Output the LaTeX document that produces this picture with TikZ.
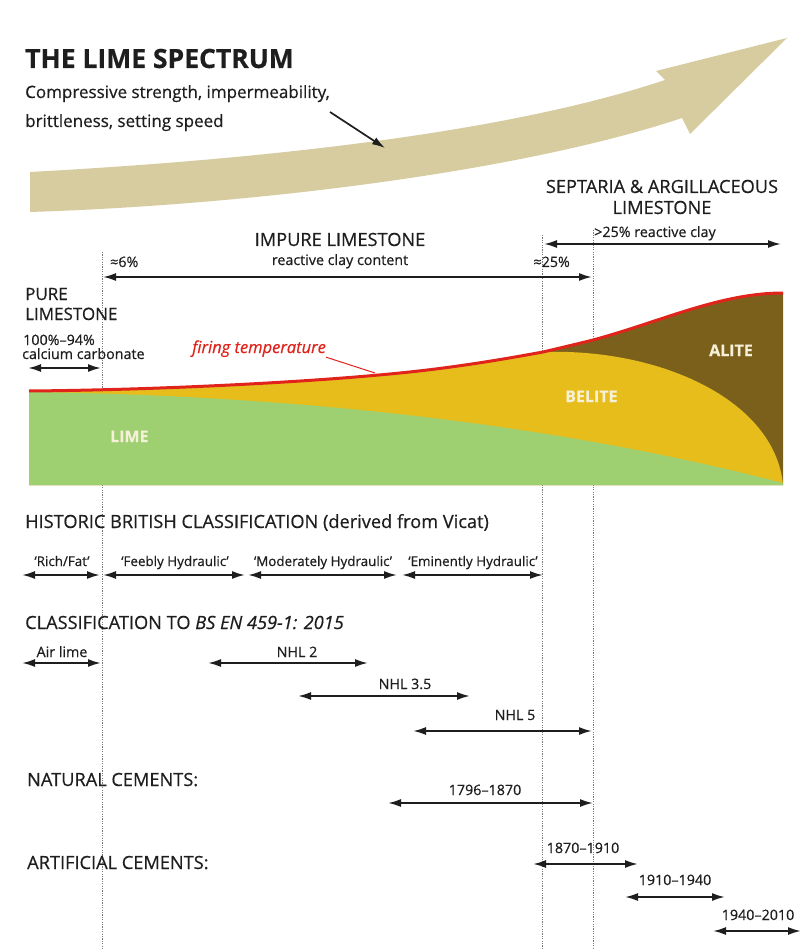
\documentclass[tikz,border=0pt]{standalone}
\usepackage{fontspec}
\setmainfont{Open Sans}[FakeBold=0.5]
\usetikzlibrary{arrows.meta}
\definecolor{tanc}{RGB}{215,204,160}
\definecolor{limeg}{RGB}{158,207,112}
\definecolor{belite}{RGB}{231,189,28}
\definecolor{alite}{RGB}{123,96,28}
\definecolor{firered}{RGB}{224,36,28}
\definecolor{ink}{RGB}{30,30,30}
\definecolor{guide}{RGB}{120,120,120}
\definecolor{labcream}{RGB}{245,240,215}
\tikzset{
  txt/.style={inner sep=0pt, text=ink, font=\fontsize{17}{20}\selectfont},
  headtxt/.style={inner sep=0pt, text=ink, font=\fontsize{18.2}{21}\selectfont},
  smalltxt/.style={inner sep=0pt, text=ink, font=\fontsize{14.3}{17}\selectfont},
  histtxt/.style={inner sep=0pt, text=ink, font=\fontsize{13.4}{16}\selectfont},
  areatxt/.style={inner sep=0pt, text=labcream, font=\bfseries\fontsize{16}{19}\selectfont},
  span/.style={{Latex[length=13pt,width=8pt]}-{Latex[length=13pt,width=8pt]}, line width=1.9pt, draw=ink},
  guideline/.style={draw=guide, line width=0.8pt, dash pattern=on 1.2pt off 1.2pt},
}
\begin{document}
\begin{tikzpicture}[x=1pt,y=-1pt]
\useasboundingbox (0,0) rectangle (802,949);
\fill[white] (0,0) rectangle (802,949);

% guide lines (behind chart)
\coordinate (g1t) at (102,252); \coordinate (g1b) at (102,949);
\coordinate (g2t) at (542,235); \coordinate (g2b) at (542,949);
\coordinate (g3t) at (593,230); \coordinate (g3b) at (593,949);
\draw[guideline] (g1t) -- (g1b);
\draw[guideline] (g2t) -- (g2b);
\draw[guideline] (g3t) -- (g3b);

% title
\node[txt, anchor=base west, font=\bfseries\fontsize{26.5}{30}\selectfont] (title) at (25,68) {THE LIME SPECTRUM};
\node[txt, anchor=base west] (props) at (25,98) {Compressive strength, impermeability,};
\node[txt, anchor=base west] (props2) at (25,127) {brittleness, setting speed};

% big arrow
\fill[tanc] (30,172) .. controls (250,160) and (500,135) .. (665,80)
  -- (656,71) -- (787,38) -- (690,134) -- (682,118)
  .. controls (520,172) and (250,205) .. (30,212) -- cycle;
\coordinate (parr) at (385,148);
\coordinate (pstart) at (330,112);
\draw[-{Latex[length=13pt,width=8pt]}, line width=1.7pt, draw=ink] (pstart) -- (parr);

% septaria
\node[headtxt, anchor=base] (sept) at (662,193) {SEPTARIA \& ARGILLACEOUS};
\node[headtxt, anchor=base] (sept2) at (662,214) {LIMESTONE};
\node[smalltxt, anchor=base] (sept3) at (655,237) {>25\% reactive clay};
\coordinate (sa) at (544,244); \coordinate (sb) at (781,244);
\draw[span] (sa) -- (sb);

% impure
\node[headtxt, anchor=base] (imp) at (340,246) {IMPURE LIMESTONE};
\node[smalltxt, anchor=base] (imp2) at (340,265) {reactive clay content};
\node[smalltxt, anchor=base west] (p6) at (110,267) {≈6\%};
\node[smalltxt, anchor=base east] (p25) at (570,267) {≈25\%};
\coordinate (ia) at (103,277); \coordinate (ib) at (592,277);
\draw[span] (ia) -- (ib);

% pure
\node[txt, anchor=base west] (pure) at (25,300) {PURE};
\node[txt, anchor=base west] (pure2) at (25,320) {LIMESTONE};
\node[smalltxt, anchor=base west] (pc1) at (23,345) {100\%–94\%};
\node[smalltxt, anchor=base west] (pc2) at (22,359) {calcium carbonate};
\coordinate (pa) at (28,368); \coordinate (pb) at (101,368);
\draw[span] (pa) -- (pb);

% chart
\fill[alite] (29,391) .. controls (150,390) and (300,383) .. (400,373)
  .. controls (460,367) and (510,358) .. (543,352)
  .. controls (560,348) and (577,344) .. (593,340)
  .. controls (660,322) and (720,293) .. (783,293)
  -- (783,485) -- (29,485) -- cycle;
\fill[belite] (29,391) .. controls (150,390) and (300,383) .. (400,373)
  .. controls (460,367) and (510,358) .. (543,352)
  .. controls (660,348) and (775,400) .. (783,485)
  -- (29,485) -- cycle;
\fill[limeg] (29,392) .. controls (250,395) and (520,415) .. (783,483)
  -- (783,485) -- (29,485) -- cycle;
\draw[firered, line width=3pt] (29,391) .. controls (150,390) and (300,383) .. (400,373)
  .. controls (460,367) and (510,358) .. (543,352)
  .. controls (560,348) and (577,344) .. (593,340)
  .. controls (660,322) and (720,293) .. (783,293);
\node[areatxt, anchor=base west] (lime) at (110,442) {LIME};
\node[areatxt, anchor=base west] (bel) at (565,402) {BELITE};
\node[areatxt, anchor=base west] (ali) at (709,356) {ALITE};
\node[inner sep=0pt, text=firered, anchor=base west, font=\itshape\fontsize{16.5}{19}\selectfont] (fire) at (192,353) {firing temperature};
\coordinate (fp) at (375,373);
\draw[firered, line width=1pt] (fire.south east) -- (fp);

% historic
\node[headtxt, anchor=base west] (hist) at (25,528) {HISTORIC BRITISH CLASSIFICATION (derived from Vicat)};
\node[histtxt, anchor=base] (h1) at (62,566) {‘Rich/Fat’};
\node[histtxt, anchor=base] (h2) at (175,566) {‘Feebly Hydraulic’};
\node[histtxt, anchor=base] (h3) at (323,566) {‘Moderately Hydraulic’};
\node[histtxt, anchor=base] (h4) at (473,566) {‘Eminently Hydraulic’};
\coordinate (h1a) at (22,575); \coordinate (h1b) at (100,575);
\coordinate (h2a) at (103,575); \coordinate (h2b) at (245,575);
\coordinate (h3a) at (248,575); \coordinate (h3b) at (397,575);
\coordinate (h4a) at (402,575); \coordinate (h4b) at (543,575);
\draw[span] (h1a) -- (h1b);
\draw[span] (h2a) -- (h2b);
\draw[span] (h3a) -- (h3b);
\draw[span] (h4a) -- (h4b);

% BS EN
\node[headtxt, anchor=base west] (bs) at (25,629) {CLASSIFICATION TO \textit{BS EN 459-1: 2015}};
\node[smalltxt, anchor=base] (air) at (62,657) {Air lime};
\coordinate (aa) at (22,663); \coordinate (ab) at (101,663);
\draw[span] (aa) -- (ab);
\node[smalltxt, anchor=base] (n2) at (297,657) {NHL 2};
\coordinate (n2a) at (208,663); \coordinate (n2b) at (368,663);
\draw[span] (n2a) -- (n2b);
\node[smalltxt, anchor=base] (n35) at (405,689) {NHL 3.5};
\coordinate (n35a) at (298,696); \coordinate (n35b) at (470,696);
\draw[span] (n35a) -- (n35b);
\node[smalltxt, anchor=base] (n5) at (515,720) {NHL 5};
\coordinate (n5a) at (413,731); \coordinate (n5b) at (592,731);
\draw[span] (n5a) -- (n5b);

% cements
\node[headtxt, anchor=base west] (nat) at (27,786) {NATURAL CEMENTS:};
\node[smalltxt, anchor=base] (c1) at (485,795) {1796–1870};
\coordinate (c1a) at (388,803); \coordinate (c1b) at (593,803);
\draw[span] (c1a) -- (c1b);
\node[headtxt, anchor=base west] (art) at (27,869) {ARTIFICIAL CEMENTS:};
\node[smalltxt, anchor=base] (c2) at (583,853) {1870–1910};
\coordinate (c2a) at (533,864); \coordinate (c2b) at (638,864);
\draw[span] (c2a) -- (c2b);
\node[smalltxt, anchor=base] (c3) at (675,885) {1910–1940};
\coordinate (c3a) at (625,897); \coordinate (c3b) at (725,897);
\draw[span] (c3a) -- (c3b);
\node[smalltxt, anchor=base] (c4) at (758,920) {1940–2010};
\coordinate (c4a) at (713,931); \coordinate (c4b) at (801,931);
\draw[span] (c4a) -- (c4b);
\end{tikzpicture}
\end{document}
